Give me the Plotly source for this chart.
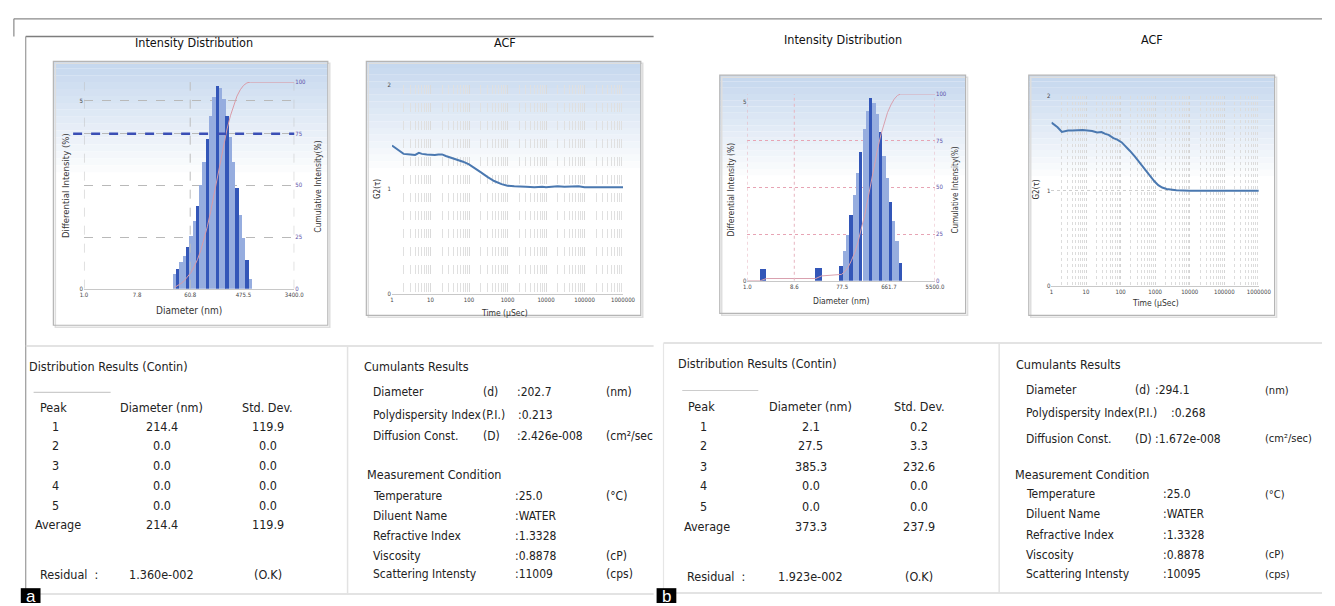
import math
import plotly.graph_objects as go

W, H = 1335, 606
FONT = "Liberation Sans Narrow, DejaVu Sans Condensed, Roboto, sans-serif"


def X(px):
    return px / W


def Y(py):
    return 1 - py / H


# ---------------- DATA ----------------
# Panel a - Intensity distribution (diameter nm, differential intensity %)
a_diam_nm = [33.1, 37.6, 42.7, 48.5, 55.0, 62.5, 71.0, 80.6, 91.5, 104, 118, 134,
             152, 173, 196, 223, 253, 288, 327, 371, 422, 479, 544, 618]
a_diff_int = [0.38, 0.53, 0.70, 0.88, 1.10, 1.40, 1.80, 2.19, 2.76, 3.38, 3.99, 4.60,
              5.09, 5.39, 5.35, 5.04, 4.60, 4.04, 3.38, 2.68, 1.97, 1.36, 0.75, 0.26]
a_cum_diam = [33.1, 37.6, 42.7, 48.5, 55.0, 62.5, 71.0, 80.6, 91.5, 104, 118, 134,
              152, 173, 196, 223, 253, 288, 327, 371, 422, 479, 544, 618, 3400]
a_cum_int = [0.6, 1.4, 2.5, 3.9, 5.6, 7.8, 10.7, 14.1, 18.5, 23.8, 30.0, 37.3,
             45.3, 53.7, 62.2, 70.1, 77.3, 83.7, 89.0, 93.2, 96.3, 98.4, 99.6, 100, 100]
a_xticks = [1.0, 7.8, 60.8, 475.5, 3400.0]

# Panel b - Intensity distribution
b_diam_nm = [1.95, 2.25, 24.5, 28.5, 75.3, 87.5, 102, 118, 138, 160, 186, 217, 252,
             293, 341, 396, 461, 536, 623, 725, 843, 981, 1140]
b_diff_int = [0.33, 0.34, 0.36, 0.37, 0.42, 0.83, 1.29, 1.85, 2.40, 3.00, 3.60, 4.24,
              4.75, 5.12, 4.98, 4.66, 4.15, 3.50, 2.86, 2.21, 1.66, 1.11, 0.51]
b_cum_diam = [1.0, 1.8, 2.4, 23.0, 30.0, 75.3, 87.5, 102, 118, 138, 160, 186, 217, 252,
              293, 341, 396, 461, 536, 623, 725, 843, 981, 1140, 5500]
b_cum_int = [0, 0, 1.2, 1.2, 2.6, 3.4, 4.9, 7.3, 10.7, 15.1, 20.6, 27.2, 35.0, 43.7,
             53.1, 62.2, 70.8, 78.4, 84.8, 90.1, 94.1, 97.2, 99.2, 100, 100]
b_xticks = [1.0, 8.6, 77.5, 661.7, 5500.0]

# ACF data (time in microseconds, G2)
acf_a_t = [1, 1.5, 2, 3, 4, 5, 6, 8, 10, 13, 16, 20, 25, 30, 40, 50, 70, 100, 150,
           200, 300, 450, 700, 1000, 1500, 2000, 3000, 5000, 8000, 10000, 15000,
           20000, 30000, 50000, 70000, 100000, 200000, 500000, 1000000]
acf_a_g2 = [1.42, 1.37, 1.34, 1.335, 1.33, 1.35, 1.34, 1.335, 1.33, 1.33, 1.335, 1.335,
            1.32, 1.31, 1.30, 1.285, 1.265, 1.24, 1.20, 1.165, 1.12, 1.08, 1.05, 1.035,
            1.03, 1.025, 1.025, 1.02, 1.025, 1.02, 1.025, 1.03, 1.025, 1.025, 1.03,
            1.02, 1.02, 1.02, 1.02]
acf_b_t = [1, 1.5, 2, 3, 4, 5.5, 8, 11, 15, 21, 28, 36, 45, 62, 80, 108, 140, 187, 260,
           362, 500, 700, 950, 1230, 1600, 2140, 3000, 4100, 10000, 30000, 100000,
           300000, 1000000]
acf_b_g2 = [1.72, 1.67, 1.62, 1.635, 1.635, 1.64, 1.64, 1.635, 1.63, 1.615, 1.62, 1.60,
            1.59, 1.555, 1.54, 1.51, 1.47, 1.42, 1.36, 1.295, 1.225, 1.155, 1.10, 1.06,
            1.035, 1.02, 1.01, 1.005, 1.0, 1.0, 1.0, 1.0, 1.0]

# Tables
peak_ids = ["1", "2", "3", "4", "5"]
a_peak_diam = [214.4, 0.0, 0.0, 0.0, 0.0]
a_peak_std = [119.9, 0.0, 0.0, 0.0, 0.0]
a_avg = (214.4, 119.9)
a_residual = "1.360e-002"
b_peak_diam = [2.1, 27.5, 385.3, 0.0, 0.0]
b_peak_std = [0.2, 3.3, 232.6, 0.0, 0.0]
b_avg = (373.3, 237.9)
b_residual = "1.923e-002"
a_cumulants = ["202.7", "0.213", "2.426e-008"]
b_cumulants = ["294.1", "0.268", "1.672e-008"]
meas_labels = ["Temperature", "Diluent Name", "Refractive Index", "Viscosity",
               "Scattering Intensty"]
meas_units = ["(°C)", "", "", "(cP)", "(cps)"]
a_meas = ["25.0", "WATER", "1.3328", "0.8878", "11009"]
b_meas = ["25.0", "WATER", "1.3328", "0.8878", "10095"]

# ---------------- FIGURE ----------------
fig = go.Figure()
L = math.log10

light, dark = "#96addf", "#3356b8"
a_colors = [dark if i % 3 == 1 else light for i in range(len(a_diam_nm))]
b_colors = [dark if (i % 3 == 1 or d < 50) else light for i, d in enumerate(b_diam_nm)]

fig.add_trace(go.Bar(x=[L(d) for d in a_diam_nm], y=a_diff_int, width=0.056,
                     marker=dict(color=a_colors, line=dict(width=0)),
                     xaxis="x", yaxis="y", showlegend=False))
fig.add_trace(go.Scatter(x=[L(d) for d in a_cum_diam], y=a_cum_int, mode="lines",
                         line=dict(color="#d99aa6", width=1),
                         xaxis="x", yaxis="y2", showlegend=False))
fig.add_trace(go.Scatter(x=acf_a_t, y=acf_a_g2, mode="lines",
                         line=dict(color="#4a78b0", width=2),
                         xaxis="x2", yaxis="y3", showlegend=False))
fig.add_trace(go.Bar(x=[L(d) for d in b_diam_nm], y=b_diff_int, width=0.066,
                     marker=dict(color=b_colors, line=dict(width=0)),
                     xaxis="x3", yaxis="y4", showlegend=False))
fig.add_trace(go.Scatter(x=[L(d) for d in b_cum_diam], y=b_cum_int, mode="lines",
                         line=dict(color="#d9a0ae", width=1),
                         xaxis="x3", yaxis="y5", showlegend=False))
fig.add_trace(go.Scatter(x=acf_b_t, y=acf_b_g2, mode="lines",
                         line=dict(color="#4a78b0", width=2),
                         xaxis="x4", yaxis="y6", showlegend=False))

tickf = dict(family=FONT, size=6, color="#444")
purp = dict(family=FONT, size=6, color="#5a4fa8")

common_x = dict(showline=True, linecolor="#c8c8c8", linewidth=1, zeroline=False,
                ticks="", tickfont=tickf, fixedrange=True)

fig.update_layout(
    width=W, height=H, margin=dict(l=0, r=0, t=0, b=0),
    paper_bgcolor="white", plot_bgcolor="rgba(0,0,0,0)", bargap=0,
    xaxis=dict(domain=[X(81), X(294)], range=[0, L(3400)], anchor="y",
               tickmode="array", tickvals=[L(v) for v in a_xticks],
               ticktext=["%.1f" % v for v in a_xticks], showgrid=False, **common_x),
    yaxis=dict(domain=[Y(288), Y(79)], range=[0, 5.5], anchor="x",
               tickvals=[0, 5], tickfont=tickf, showgrid=True, gridcolor="#b9b9b9",
               griddash="dash", zeroline=False, ticks="", showline=False),
    yaxis2=dict(overlaying="y", side="right", anchor="x", range=[0, 100],
                tickvals=[0, 25, 50, 75, 100], tickfont=purp, showgrid=True,
                gridcolor="#b9b9b9", griddash="dash", zeroline=False, ticks=""),
    xaxis2=dict(domain=[X(393), X(627)], type="log", range=[0, 6], anchor="y3",
                dtick=1, tickformat="d", showgrid=True, gridcolor="#dadada",
                griddash="dash",
                minor=dict(dtick="D1", showgrid=True, gridcolor="#e0e0e0",
                           griddash="dash", ticks=""),
                **common_x),
    yaxis3=dict(domain=[Y(293), Y(82)], range=[0, 2], dtick=1, anchor="x2",
                tickfont=tickf, showgrid=False, zeroline=False, ticks=""),
    xaxis3=dict(domain=[X(753), X(943)], range=[0, L(5500)], anchor="y4",
                tickmode="array", tickvals=[L(v) for v in b_xticks],
                ticktext=["%.1f" % v for v in b_xticks], showgrid=False, **common_x),
    yaxis4=dict(domain=[Y(280), Y(91)], range=[0, 5.22], anchor="x3",
                tickvals=[0, 5], tickfont=tickf, showgrid=False, zeroline=False,
                ticks=""),
    yaxis5=dict(overlaying="y4", side="right", anchor="x3", range=[0, 100],
                tickvals=[0, 25, 50, 75, 100], tickfont=purp, showgrid=True,
                gridcolor="#e7a4b4", griddash="dot", zeroline=False, ticks=""),
    xaxis4=dict(domain=[X(1061), X(1271)], type="log", range=[0, 6], anchor="y6",
                dtick=1, tickformat="d", showgrid=True, gridcolor="#d4d4d4",
                griddash="dot",
                minor=dict(dtick="D1", showgrid=True, gridcolor="#dcdcdc",
                           griddash="dot", ticks=""),
                **common_x),
    yaxis6=dict(domain=[Y(285), Y(93)], range=[0, 2], dtick=1, anchor="x4",
                tickfont=tickf, showgrid=True, gridcolor="#cfcfcf", griddash="dot",
                zeroline=False, ticks=""),
)

shapes = []
ann = []


def line(x0, y0, x1, y1, color="#cfcfcf", width=1.5, dash="solid"):
    shapes.append(dict(type="line", xref="paper", yref="paper", x0=X(x0), y0=Y(y0),
                       x1=X(x1), y1=Y(y1), line=dict(color=color, width=width, dash=dash)))


def frame(x0, y0, x1, y1):
    n = 16
    top = (198, 216, 238)
    gh = (y1 - y0) * 0.42
    for i in range(n):
        f = i / n
        c = tuple(int(top[k] + (255 - top[k]) * f) for k in range(3))
        shapes.append(dict(type="rect", xref="paper", yref="paper", layer="below",
                           x0=X(x0), x1=X(x1), y0=Y(y0 + gh * i / n),
                           y1=Y(y0 + gh * (i + 1) / n),
                           fillcolor="rgb(%d,%d,%d)" % c, line=dict(width=0)))
    shapes.append(dict(type="rect", xref="paper", yref="paper", layer="below",
                       x0=X(x0 + 2), x1=X(x1 + 2), y0=Y(y1 + 2), y1=Y(y0 + 2),
                       line=dict(color="#dedede", width=1.5)))
    shapes.append(dict(type="rect", xref="paper", yref="paper", layer="below",
                       x0=X(x0), x1=X(x1), y0=Y(y1), y1=Y(y0),
                       line=dict(color="#b5b5b5", width=1.2)))


def txt(s, x, y, size=12, anchor="left", color="#222", angle=0):
    ann.append(dict(text=s, x=X(x), y=Y(y), xref="paper", yref="paper",
                    xanchor=anchor, yanchor="middle", showarrow=False,
                    textangle=angle, font=dict(family=FONT, size=size, color=color)))


# frames with gradient
frame(50, 58, 328, 325)
frame(367, 58, 645, 315)
frame(725, 72, 974, 313)
frame(1038, 72, 1287, 315)

# page lines
line(10, 15, 1335, 15, "#8a8a8a", 1.2)
line(10, 15, 10, 33, "#8a8a8a", 1.2)
line(22, 33, 658, 33, "#7d7d7d", 1.5)
line(22, 33, 22, 597, "#9a9a9a", 1.2)
line(22, 346, 658, 346, "#dadada", 1.5)
line(22, 597, 658, 597, "#dadada", 1.5)
line(348, 346, 348, 597, "#e2e2e2", 1.5)
line(668, 343, 1335, 343, "#dadada", 1.5)
line(668, 596, 1335, 596, "#dadada", 1.5)
line(668, 343, 668, 596, "#e6e6e6", 1.2)
line(1008, 343, 1008, 596, "#e2e2e2", 1.5)
line(30, 393, 108, 393, "#cccccc", 1.2)
line(687, 391, 764, 391, "#cccccc", 1.2)

# panel a intensity reference lines
for xv in [0, L(60.8), L(3400)]:
    shapes.append(dict(type="line", xref="x", yref="y2", x0=xv, x1=xv, y0=0, y1=100,
                       line=dict(color="#bdbdbd", width=1, dash="dash")))
shapes.append(dict(type="line", xref="paper", yref="y2", x0=X(70), x1=X(294), y0=75,
                   y1=75, line=dict(color="#3b4fb5", width=2.6, dash="dash")))
# panel b intensity reference lines
for xv in [0, L(8.6), L(5500)]:
    shapes.append(dict(type="line", xref="x3", yref="y5", x0=xv, x1=xv, y0=0, y1=100,
                       line=dict(color="#e7b4c0", width=1, dash="dot")))

# panel labels
for x0, lab in [(17, "a"), (661, "b")]:
    shapes.append(dict(type="rect", xref="paper", yref="paper", x0=X(x0), x1=X(x0 + 20),
                       y0=Y(606), y1=Y(591), fillcolor="black", line=dict(width=0)))
    ann.append(dict(text=lab, x=X(x0 + 10), y=Y(599), xref="paper", yref="paper",
                    showarrow=False, xanchor="center", yanchor="middle",
                    font=dict(family="Liberation Sans, Arial, sans-serif", size=17,
                              color="white")))

# chart titles
txt("Intensity Distribution", 192, 39, 12.5, "center", "#111")
txt("ACF", 507, 39, 12.5, "center", "#111")
txt("Intensity Distribution", 850, 36, 12.5, "center", "#111")
txt("ACF", 1163, 36, 12.5, "center", "#111")

# axis titles
txt("Differential Intensity (%)", 63, 184, 9.5, "center", "#333", -90)
txt("Cumulative Intensity(%)", 318, 184, 8.5, "center", "#333", -90)
txt("Diameter (nm)", 187, 310, 10, "center", "#333")
txt("G2(τ)", 379, 187, 8, "center", "#333", -90)
txt("Time (µSec)", 507, 313, 8.5, "center", "#333")
txt("Differential Intensity (%)", 736, 188, 8.5, "center", "#333", -90)
txt("Cumulative Intensity(%)", 964, 188, 8, "center", "#333", -90)
txt("Diameter (nm)", 848, 300, 8.5, "center", "#333")
txt("G2(τ)", 1046, 188, 8, "center", "#333", -90)
txt("Time (µSec)", 1166, 302, 8.5, "center", "#333")


# tables - distribution results
def dist_table(x_title, y_title, xc_peak, xc_d, xc_s, y_head, row_ys, y_avg, y_res,
               x_res, diam, std, avg, resid):
    txt("Distribution Results (Contin)", x_title, y_title, 12.5)
    txt("Peak", xc_peak, y_head, 12.5, "center")
    txt("Diameter (nm)", xc_d, y_head, 12.5, "center")
    txt("Std. Dev.", xc_s, y_head, 12.5, "center")
    for pid, d, s, yy in zip(peak_ids, diam, std, row_ys):
        txt(pid, xc_peak + 2, yy, 12.5, "center")
        txt("%.1f" % d, xc_d, yy, 12.5, "center")
        txt("%.1f" % s, xc_s, yy, 12.5, "center")
    txt("Average", xc_peak + 5, y_avg, 12.5, "center")
    txt("%.1f" % avg[0], xc_d, y_avg, 12.5, "center")
    txt("%.1f" % avg[1], xc_s, y_avg, 12.5, "center")
    txt("Residual  :", x_res, y_res, 12.5)
    txt(resid, xc_d, y_res, 12.5, "center")
    txt("(O.K)", xc_s, y_res, 12.5, "center")


dist_table(23, 367, 50, 160, 267, 408, [427, 447, 467, 487, 507], 527, 577, 34,
           a_peak_diam, a_peak_std, a_avg, a_residual)
dist_table(681, 364, 707, 817, 927, 407, [427, 447, 468, 487, 508], 529, 579, 690,
           b_peak_diam, b_peak_std, b_avg, b_residual)


def cum_table(xt, yt, xl, xsym, xpi, xval, xval_pi, xunit, ys, cum, y_mc, xmc, mys,
              xmval, meas, diff_unit, usize):
    txt("Cumulants Results", xt, yt, 12.5)
    txt("Diameter", xl, ys[0], 12)
    txt("(d)", xsym, ys[0], 12)
    txt(":" + cum[0], xval, ys[0], 12)
    txt("(nm)", xunit, ys[0], usize)
    txt("Polydispersity Index", xl, ys[1], 12)
    txt("(P.I.)", xpi, ys[1], 12)
    txt(":" + cum[1], xval_pi, ys[1], 12)
    txt("Diffusion Const.", xl, ys[2], 12)
    txt("(D)", xsym, ys[2], 12)
    txt(":" + cum[2], xval, ys[2], 12)
    txt(diff_unit, xunit, ys[2], usize)
    txt("Measurement Condition", xmc, y_mc, 12.5)
    for lab, v, u, yy in zip(meas_labels, meas, meas_units, mys):
        txt(lab, xl, yy, 12)
        txt(":" + v, xmval, yy, 12)
        if u:
            txt(u, xunit, yy, usize)


cum_table(363, 367, 372, 483, 482, 518, 519, 608, [393, 416, 437], a_cumulants, 476,
          366, [498, 518, 538, 558, 577], 516, a_meas, "(cm²/sec", 12)
cum_table(1023, 365, 1033, 1144, 1143, 1164, 1180, 1275, [391, 414, 440], b_cumulants,
          476, 1022, [496, 516, 537, 557, 577], 1172, b_meas, "(cm²/sec)", 11)

fig.update_layout(shapes=shapes, annotations=ann)
fig.write_html(
    "out.html",
    config={"displayModeBar": False},
    post_script="document.body.style.margin='0';document.body.style.overflow='hidden';",
)
